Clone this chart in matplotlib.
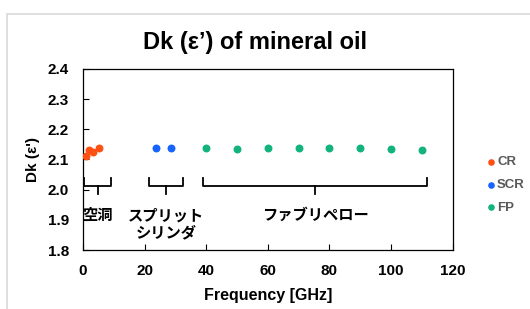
import matplotlib
matplotlib.use("Agg")
import matplotlib.pyplot as plt
from matplotlib.patches import Rectangle

# Dk of mineral oil measured with three methods
cr_freq = [1.1, 2.1, 3.3, 5.1]
cr_dk = [2.111, 2.130, 2.126, 2.139]
scr_freq = [23.8, 28.5]
scr_dk = [2.138, 2.138]
fp_freq = [40, 50, 60, 70, 80, 90, 100, 110]
fp_dk = [2.138, 2.135, 2.137, 2.137, 2.137, 2.137, 2.135, 2.131]

# method ranges for the brackets and their labels
method_labels = ["空洞", "スプリット\nシリンダ", "ファブリペロー"]
method_ranges = [(0.3, 9.2), (21.4, 32.4), (38.9, 111.8)]

plt.rcParams['font.family'] = ['Liberation Sans', 'DejaVu Sans']
jp = ['Noto Sans CJK JP', 'DejaVu Sans']

fig = plt.figure(figsize=(5.30, 3.09), dpi=100)
# light grey chart frame, cropped at right and bottom
fig.patches.append(Rectangle((7 / 530, -0.1), 1.2, (309 - 14) / 309 + 0.1,
                             transform=fig.transFigure, fill=False,
                             edgecolor='#d9d9d9', linewidth=1.2))

ax = fig.add_axes([83 / 530, 59 / 309, 369.5 / 530, 181 / 309])
ax.scatter(cr_freq, cr_dk, s=22, color='#ff5014', label='CR', zorder=3)
ax.scatter(scr_freq, scr_dk, s=22, color='#1763ff', label='SCR', zorder=3)
ax.scatter(fp_freq, fp_dk, s=22, color='#12b37c', label='FP', zorder=3)

ax.set_xlim(0, 120)
ax.set_ylim(1.8, 2.4)
ax.set_xticks(range(0, 121, 20))
ax.set_yticks([1.8, 1.9, 2.0, 2.1, 2.2, 2.3, 2.4])
ax.set_yticklabels([f"{v:.1f}" for v in [1.8, 1.9, 2.0, 2.1, 2.2, 2.3, 2.4]])
ax.tick_params(direction='in', length=4, width=0.8, labelsize=11, pad=10)
for lab in ax.get_xticklabels() + ax.get_yticklabels():
    lab.set_fontweight('bold')
for sp in ax.spines.values():
    sp.set_linewidth(0.9)

ax.set_xlabel('Frequency [GHz]', fontsize=11.5, fontweight='bold', labelpad=7)
ax.set_ylabel("Dk (ε')", fontsize=11, fontweight='bold', labelpad=6)
fig.text(255 / 530, 1 - 42 / 309, 'Dk (ε’) of mineral oil', ha='center',
         va='center', fontsize=17, fontweight='bold')

# brackets under each group of points
top, mid, bot = 2.040, 2.011, 1.984
for (x0, x1), label in zip(method_ranges, method_labels):
    xc = (x0 + x1) / 2
    ax.plot([x0, x0, x1, x1], [top, mid, mid, top], color='black', lw=1.3,
            solid_joinstyle='round')
    ax.plot([xc, xc], [mid, bot], color='black', lw=1.3)
    ax.text(xc, 1.942, label, ha='center', va='top', fontsize=11,
            fontweight='bold', family=jp, linespacing=1.1)

fig.legend(loc='center left', bbox_to_anchor=(476 / 530, 1 - 185 / 309),
           frameon=False, handlelength=0.4, handletextpad=0.3,
           labelspacing=0.8, markerscale=0.8, labelcolor='#595959',
           prop={'weight': 'bold', 'size': 9.5})

fig.savefig('out.png', dpi=100)
